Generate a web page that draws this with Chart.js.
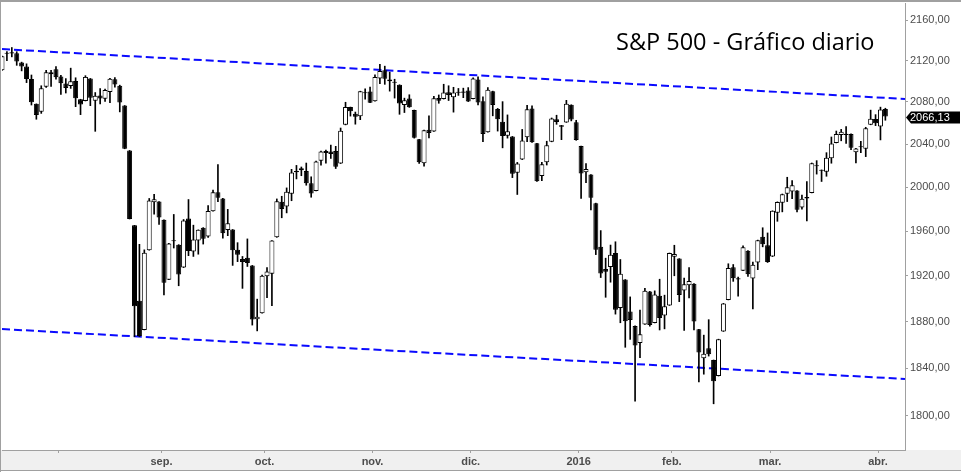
<!DOCTYPE html>
<html>
<head>
<meta charset="utf-8">
<script src="https://cdn.jsdelivr.net/npm/chart.js@4.4.0/dist/chart.umd.min.js"></script>
<style>
  html, body { margin: 0; padding: 0; background: #fff; overflow: hidden; }
  canvas { display: block; }
</style>
</head>
<body>
<canvas id="spx" width="961" height="472"></canvas>
<script>
// daily sessions, 16 jul 2015 - 4 abr 2016
const dates = [
  '2015-07-16','2015-07-17','2015-07-20','2015-07-21','2015-07-22','2015-07-23','2015-07-24','2015-07-27','2015-07-28','2015-07-29','2015-07-30','2015-07-31',
  '2015-08-03','2015-08-04','2015-08-05','2015-08-06','2015-08-07','2015-08-10','2015-08-11','2015-08-12','2015-08-13','2015-08-14','2015-08-17','2015-08-18','2015-08-19','2015-08-20','2015-08-21','2015-08-24','2015-08-25','2015-08-26','2015-08-27','2015-08-28','2015-08-31',
  '2015-09-01','2015-09-02','2015-09-03','2015-09-04','2015-09-08','2015-09-09','2015-09-10','2015-09-11','2015-09-14','2015-09-15','2015-09-16','2015-09-17','2015-09-18','2015-09-21','2015-09-22','2015-09-23','2015-09-24','2015-09-25','2015-09-28','2015-09-29','2015-09-30',
  '2015-10-01','2015-10-02','2015-10-05','2015-10-06','2015-10-07','2015-10-08','2015-10-09','2015-10-12','2015-10-13','2015-10-14','2015-10-15','2015-10-16','2015-10-19','2015-10-20','2015-10-21','2015-10-22','2015-10-23','2015-10-26','2015-10-27','2015-10-28','2015-10-29','2015-10-30',
  '2015-11-02','2015-11-03','2015-11-04','2015-11-05','2015-11-06','2015-11-09','2015-11-10','2015-11-11','2015-11-12','2015-11-13','2015-11-16','2015-11-17','2015-11-18','2015-11-19','2015-11-20','2015-11-23','2015-11-24','2015-11-25','2015-11-27','2015-11-30',
  '2015-12-01','2015-12-02','2015-12-03','2015-12-04','2015-12-07','2015-12-08','2015-12-09','2015-12-10','2015-12-11','2015-12-14','2015-12-15','2015-12-16','2015-12-17','2015-12-18','2015-12-21','2015-12-22','2015-12-23','2015-12-24','2015-12-28','2015-12-29','2015-12-30','2015-12-31',
  '2016-01-04','2016-01-05','2016-01-06','2016-01-07','2016-01-08','2016-01-11','2016-01-12','2016-01-13','2016-01-14','2016-01-15','2016-01-19','2016-01-20','2016-01-21','2016-01-22','2016-01-25','2016-01-26','2016-01-27','2016-01-28','2016-01-29',
  '2016-02-01','2016-02-02','2016-02-03','2016-02-04','2016-02-05','2016-02-08','2016-02-09','2016-02-10','2016-02-11','2016-02-12','2016-02-16','2016-02-17','2016-02-18','2016-02-19','2016-02-22','2016-02-23','2016-02-24','2016-02-25','2016-02-26','2016-02-29',
  '2016-03-01','2016-03-02','2016-03-03','2016-03-04','2016-03-07','2016-03-08','2016-03-09','2016-03-10','2016-03-11','2016-03-14','2016-03-15','2016-03-16','2016-03-17','2016-03-18','2016-03-21','2016-03-22','2016-03-23','2016-03-24','2016-03-28','2016-03-29','2016-03-30','2016-03-31',
  '2016-04-01','2016-04-04'
];

const open = [
  2110.55, 2126.80, 2126.85, 2127.19, 2118.21, 2114.16, 2102.24, 2078.19, 2070.75, 2094.70, 2106.78, 2111.60,
  2104.49, 2097.68, 2095.27, 2100.13, 2082.61, 2080.98, 2102.66, 2081.10, 2086.19, 2083.15, 2089.70, 2101.99, 2095.69, 2076.61, 2034.08, 1965.15, 1898.08, 1872.75, 1942.77, 1986.06, 1986.73,
  1970.09, 1916.52, 1950.79, 1947.76, 1927.30, 1971.45, 1941.59, 1951.45, 1963.06, 1955.10, 1978.02, 1995.33, 1989.66, 1960.84, 1961.39, 1943.24, 1934.81, 1935.93, 1929.18, 1881.90, 1887.14,
  1919.65, 1921.77, 1954.33, 1986.63, 1982.34, 1994.01, 2013.73, 2015.65, 2015.00, 2003.66, 1996.47, 2024.37, 2031.73, 2033.13, 2033.47, 2021.88, 2058.19, 2075.08, 2068.75, 2066.48, 2088.35, 2090.00,
  2080.76, 2102.63, 2110.60, 2101.68, 2098.60, 2096.56, 2077.19, 2083.41, 2072.29, 2044.64, 2022.08, 2053.67, 2051.99, 2083.70, 2082.82, 2089.41, 2084.42, 2089.30, 2088.82, 2090.95,
  2082.93, 2101.71, 2080.71, 2051.24, 2090.42, 2073.39, 2061.17, 2047.93, 2047.27, 2013.37, 2025.55, 2046.50, 2073.76, 2040.81, 2010.27, 2023.15, 2042.20, 2063.52, 2057.77, 2060.54, 2077.34, 2060.59,
  2038.20, 2013.78, 2011.71, 1985.32, 1945.97, 1926.12, 1927.83, 1940.34, 1891.68, 1916.68, 1888.66, 1876.18, 1861.46, 1877.40, 1906.28, 1878.79, 1902.52, 1885.22, 1894.00,
  1936.94, 1935.26, 1907.07, 1911.67, 1913.07, 1873.25, 1848.46, 1857.10, 1847.00, 1833.40, 1871.44, 1898.80, 1927.57, 1916.74, 1924.44, 1942.38, 1917.56, 1931.87, 1954.95, 1947.13,
  1937.09, 1976.60, 1985.60, 1994.01, 1996.11, 1996.88, 1981.44, 1990.97, 1994.71, 2019.27, 2015.27, 2014.24, 2026.90, 2041.16, 2048.64, 2048.64, 2049.64, 2032.48, 2037.89, 2035.75, 2058.27, 2063.77,
  2056.62, 2073.19
];

const high = [
  2124.42, 2128.91, 2132.82, 2128.72, 2118.51, 2116.87, 2106.01, 2078.19, 2095.60, 2110.60, 2110.48, 2114.24,
  2105.70, 2102.51, 2112.66, 2103.32, 2082.61, 2105.35, 2102.66, 2089.06, 2092.93, 2092.45, 2102.87, 2103.47, 2096.17, 2076.61, 2034.08, 1965.15, 1948.04, 1943.09, 1989.60, 1993.48, 1986.73,
  1970.09, 1948.91, 1975.01, 1947.76, 1970.42, 1988.63, 1965.29, 1961.05, 1963.06, 1983.19, 1997.26, 2020.86, 1989.66, 1979.64, 1961.39, 1949.52, 1937.17, 1952.89, 1929.18, 1899.48, 1920.53,
  1927.21, 1951.36, 1989.17, 1991.62, 1999.31, 2016.50, 2020.13, 2018.66, 2022.34, 2009.56, 2024.15, 2033.54, 2034.45, 2039.12, 2037.97, 2055.20, 2079.74, 2075.14, 2070.37, 2090.35, 2092.52, 2094.32,
  2106.20, 2116.48, 2114.59, 2108.78, 2101.91, 2096.56, 2083.67, 2086.94, 2072.29, 2044.64, 2053.22, 2066.69, 2085.31, 2086.74, 2097.06, 2095.61, 2094.12, 2093.00, 2093.29, 2093.81,
  2103.37, 2104.27, 2085.00, 2093.84, 2090.42, 2073.85, 2080.33, 2067.65, 2047.27, 2022.92, 2053.87, 2076.72, 2076.37, 2040.81, 2022.90, 2042.74, 2064.73, 2067.36, 2057.77, 2081.56, 2077.34, 2062.54,
  2038.20, 2021.94, 2011.71, 1985.32, 1960.40, 1935.65, 1947.38, 1950.33, 1934.47, 1916.68, 1901.44, 1876.18, 1889.85, 1908.85, 1906.28, 1906.73, 1916.99, 1902.96, 1940.24,
  1947.20, 1935.26, 1918.01, 1927.35, 1913.07, 1873.25, 1868.25, 1881.60, 1847.00, 1864.78, 1895.77, 1930.68, 1930.00, 1918.78, 1946.70, 1942.38, 1932.08, 1951.83, 1962.96, 1958.27,
  1978.35, 1986.51, 1993.69, 2009.13, 2006.12, 1996.88, 1992.69, 2005.08, 2022.37, 2024.57, 2015.94, 2032.02, 2046.74, 2052.36, 2053.91, 2056.60, 2049.64, 2036.04, 2042.67, 2055.91, 2072.21, 2067.92,
  2075.07, 2074.02
];

const low = [
  2110.55, 2119.88, 2123.66, 2115.40, 2110.00, 2098.63, 2077.09, 2063.52, 2069.09, 2094.08, 2094.97, 2102.07,
  2087.31, 2088.60, 2093.05, 2075.53, 2067.91, 2080.98, 2076.49, 2052.09, 2078.26, 2080.61, 2079.30, 2094.14, 2070.53, 2035.66, 1970.89, 1867.01, 1867.08, 1872.75, 1942.77, 1975.19, 1965.98,
  1903.07, 1916.52, 1944.72, 1911.21, 1927.30, 1937.88, 1937.19, 1939.19, 1948.27, 1954.30, 1977.93, 1986.73, 1953.45, 1955.80, 1929.22, 1932.57, 1908.92, 1928.25, 1876.92, 1871.91, 1887.14,
  1900.70, 1893.70, 1954.33, 1971.99, 1976.44, 1987.53, 2007.61, 2010.55, 2001.78, 1990.73, 1996.47, 2020.46, 2022.31, 2026.61, 2017.22, 2021.88, 2058.19, 2066.53, 2058.84, 2063.11, 2082.63, 2079.34,
  2080.76, 2097.51, 2096.98, 2090.41, 2083.74, 2068.24, 2069.91, 2074.85, 2045.66, 2022.02, 2019.39, 2045.90, 2051.99, 2078.76, 2082.82, 2081.39, 2070.29, 2086.30, 2084.13, 2080.41,
  2082.93, 2077.11, 2042.35, 2051.24, 2066.78, 2052.32, 2036.53, 2045.67, 2008.80, 1993.26, 2025.55, 2042.43, 2041.66, 2005.33, 2005.93, 2020.49, 2042.20, 2058.73, 2044.20, 2060.54, 2061.97, 2043.62,
  1989.68, 2004.17, 1979.05, 1938.83, 1918.46, 1901.10, 1914.35, 1886.41, 1878.93, 1857.83, 1864.60, 1812.29, 1848.98, 1877.40, 1875.97, 1878.79, 1872.70, 1873.65, 1894.00,
  1920.03, 1897.29, 1872.23, 1900.52, 1872.65, 1828.46, 1834.94, 1850.32, 1810.10, 1833.40, 1871.44, 1898.80, 1915.09, 1902.17, 1924.44, 1919.44, 1891.00, 1925.41, 1945.78, 1931.81,
  1937.09, 1968.80, 1977.37, 1986.77, 1989.38, 1977.43, 1979.84, 1969.25, 1994.71, 2012.05, 2005.23, 2010.04, 2022.16, 2041.16, 2043.14, 2040.57, 2034.86, 2022.49, 2031.96, 2028.31, 2058.27, 2057.46,
  2043.98, 2062.57
];

const close = [
  2124.29, 2126.64, 2128.28, 2119.21, 2114.15, 2102.15, 2079.65, 2067.64, 2093.25, 2108.57, 2108.63, 2103.84,
  2098.04, 2093.32, 2099.84, 2083.56, 2077.57, 2104.18, 2084.07, 2086.05, 2083.39, 2091.54, 2102.44, 2096.92, 2079.61, 2035.73, 1970.89, 1893.21, 1867.61, 1940.51, 1987.66, 1988.87, 1972.18,
  1913.85, 1948.86, 1951.13, 1921.22, 1969.41, 1942.04, 1952.29, 1961.05, 1953.03, 1978.09, 1995.31, 1990.20, 1958.03, 1966.97, 1942.74, 1938.76, 1932.24, 1931.34, 1881.77, 1884.09, 1920.03,
  1923.82, 1951.36, 1987.05, 1979.92, 1995.83, 2013.43, 2014.89, 2017.46, 2003.69, 1994.24, 2023.86, 2033.11, 2033.66, 2030.77, 2018.94, 2052.51, 2075.15, 2071.18, 2065.89, 2090.35, 2089.41, 2079.36,
  2104.05, 2109.79, 2102.31, 2099.93, 2099.20, 2078.58, 2081.72, 2075.00, 2045.97, 2023.04, 2053.19, 2050.44, 2083.58, 2081.24, 2089.17, 2086.59, 2089.14, 2088.87, 2090.11, 2080.41,
  2102.63, 2079.51, 2049.62, 2091.69, 2077.07, 2063.59, 2047.62, 2052.23, 2012.37, 2021.94, 2043.41, 2073.07, 2041.89, 2005.55, 2021.15, 2038.97, 2064.29, 2060.99, 2056.50, 2078.36, 2063.36, 2043.94,
  2012.66, 2016.71, 1990.26, 1943.09, 1922.03, 1923.67, 1938.68, 1890.28, 1921.84, 1880.33, 1881.33, 1859.33, 1868.99, 1906.90, 1877.08, 1903.63, 1882.95, 1893.36, 1940.24,
  1939.38, 1903.03, 1912.53, 1915.45, 1880.05, 1853.44, 1852.21, 1851.86, 1829.08, 1864.78, 1895.58, 1926.82, 1917.83, 1917.78, 1945.50, 1921.27, 1929.80, 1951.70, 1948.05, 1932.23,
  1978.35, 1986.45, 1993.40, 1999.99, 2001.76, 1979.26, 1989.26, 1989.57, 2022.19, 2019.64, 2015.93, 2027.22, 2040.59, 2049.58, 2051.60, 2049.80, 2036.71, 2035.94, 2037.05, 2055.01, 2063.95, 2059.74,
  2072.78, 2066.13
];

// channel drawn by hand on the original: value at first session / at right edge
const channelTop = [2131.3, 2082.9];
const channelBottom = [1873.5, 1830.9];

const yTicks = [1800, 1840, 1880, 1920, 1960, 2000, 2040, 2080, 2120, 2160];
const monthLabels = ['', 'sep.', 'oct.', 'nov.', 'dic.', '2016', 'feb.', 'mar.', 'abr.'];
const chartTitle = 'S&P 500 - Gráfico diario';

const emptySlots = 4;   // blank sessions kept right of the last candle
const xMax = dates.length - 1 + emptySlots;

// month ticks sit between the last session of a month and the first of the next
const monthTicks = [];
dates.forEach((d, i) => {
  if (i > 0 && d.slice(5, 7) !== dates[i - 1].slice(5, 7)) monthTicks.push(i - 0.5);
});

const fmt = v => v.toFixed(2).replace('.', ',');

const frame = {
  id: 'frame',
  beforeDraw(chart) {
    const { ctx, width, height } = chart;
    const x = chart.scales.x;
    ctx.save();
    ctx.fillStyle = '#ffffff';
    ctx.fillRect(0, 0, width, height);
    ctx.fillStyle = '#f0f0f0';
    ctx.fillRect(0, x.top, width, x.bottom - x.top);
    ctx.fillStyle = '#a0a0a0';
    ctx.fillRect(0, 0, width, 2);
    ctx.fillRect(0, 0, 1, height);
    ctx.fillRect(0, x.bottom, width, 1);
    ctx.restore();
  },
  afterDraw(chart) {
    const { ctx, width } = chart;
    const y = chart.scales.y;
    ctx.save();
    // title
    ctx.fillStyle = '#000000';
    ctx.font = '23.5px "Open Sans"';
    ctx.textBaseline = 'alphabetic';
    ctx.textAlign = 'left';
    ctx.fillText(chartTitle, 616, 50);
    // last price tag
    const last = close[close.length - 1];
    const py = Math.round(y.getPixelForValue(last)) + 0.5;
    const left = y.left;
    ctx.fillStyle = '#000000';
    ctx.beginPath();
    ctx.moveTo(left + 1, py);
    ctx.lineTo(left + 6, py - 6);
    ctx.lineTo(width - 1, py - 6);
    ctx.lineTo(width - 1, py + 6);
    ctx.lineTo(left + 6, py + 6);
    ctx.closePath();
    ctx.fill();
    ctx.fillStyle = '#ffffff';
    ctx.font = '11px "Liberation Sans"';
    ctx.textBaseline = 'middle';
    ctx.fillText(fmt(last), left + 5, py + 0.5);
    ctx.restore();
  }
};

new Chart(document.getElementById('spx'), {
  type: 'bar',
  data: {
    datasets: [
      {
        type: 'line',
        data: [{ x: 0, y: channelTop[0] }, { x: xMax, y: channelTop[1] }],
        borderColor: '#0a0aff',
        borderWidth: 2,
        borderDash: [8, 4],
        pointRadius: 0,
        fill: false,
        order: 3
      },
      {
        type: 'line',
        data: [{ x: 0, y: channelBottom[0] }, { x: xMax, y: channelBottom[1] }],
        borderColor: '#0a0aff',
        borderWidth: 2,
        borderDash: [8, 4],
        pointRadius: 0,
        fill: false,
        order: 3
      },
      {
        // wicks
        data: dates.map((d, i) => ({ x: i, y: [low[i], high[i]] })),
        backgroundColor: '#000000',
        borderWidth: 0,
        barThickness: 1,
        grouped: false,
        order: 2
      },
      {
        // bodies
        data: dates.map((d, i) => ({ x: i, y: [Math.min(open[i], close[i]), Math.max(open[i], close[i])] })),
        backgroundColor: dates.map((d, i) => close[i] >= open[i] ? '#ffffff' : '#000000'),
        borderColor: '#000000',
        borderWidth: 1,
        borderSkipped: false,
        inflateAmount: 0,
        barThickness: 5,
        minBarLength: 1,
        grouped: false,
        order: 1
      }
    ]
  },
  options: {
    responsive: false,
    animation: false,
    events: [],
    layout: { padding: { left: 2, top: 3, right: 0, bottom: 2 } },
    plugins: {
      legend: { display: false },
      tooltip: { enabled: false },
      title: { display: false }
    },
    scales: {
      x: {
        type: 'linear',
        min: 0,
        max: xMax,
        offset: false,
        bounds: 'data',
        grid: { display: true, offset: false, drawOnChartArea: false, drawTicks: true, tickLength: 3, color: '#a0a0a0' },
        border: { display: true, color: '#a0a0a0' },
        afterBuildTicks: scale => { scale.ticks = monthTicks.map(v => ({ value: v })); },
        afterFit: scale => {
          scale.height = 20;
          scale.paddingLeft = 0;
          scale.paddingRight = 0;
        },
        ticks: {
          autoSkip: false,
          maxRotation: 0,
          padding: 2,
          color: '#4d4d4d',
          font: { family: 'Liberation Sans', size: 11, weight: 'bold' },
          callback: (v, i) => monthLabels[i]
        }
      },
      y: {
        type: 'logarithmic',
        position: 'right',
        min: 1772,
        max: 2177,
        bounds: 'data',
        grid: { display: true, drawOnChartArea: false, drawTicks: true, tickLength: 3, color: '#a0a0a0' },
        border: { display: true, color: '#a0a0a0' },
        afterBuildTicks: scale => { scale.ticks = yTicks.map(v => ({ value: v })); },
        afterFit: scale => {
          scale.width = 56;
          scale.paddingTop = 0;
          scale.paddingBottom = 0;
        },
        ticks: {
          autoSkip: false,
          padding: 2,
          color: '#4d4d4d',
          font: { family: 'Liberation Sans', size: 11 },
          callback: v => fmt(v)
        }
      }
    }
  },
  plugins: [frame]
});
</script>
</body>
</html>
